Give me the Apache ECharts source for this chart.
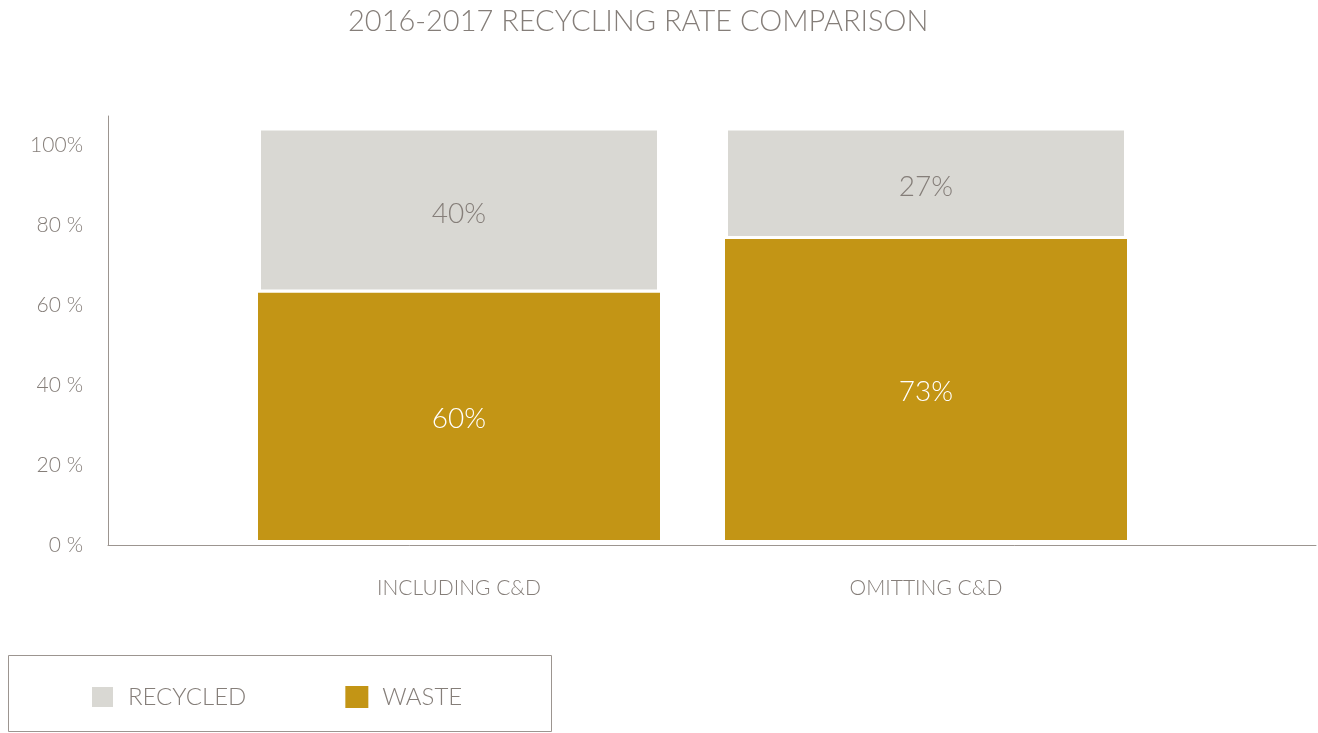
<!DOCTYPE html>
<html>
<head>
<meta charset="utf-8">
<script src="https://cdn.jsdelivr.net/npm/echarts@6/dist/echarts.min.js"></script>
<style>
html,body{margin:0;padding:0;background:#fff;}
#chart{width:1318px;height:733px;}
</style>
</head>
<body>
<div id="chart"></div>
<script>
const titleText = '2016-2017 RECYCLING RATE COMPARISON';
const categories = ['INCLUDING C&D', 'OMITTING C&D'];
const wasteValues = [60, 73];
const recycledValues = [40, 27];
const yTickValues = [0, 20, 40, 60, 80, 100];
const yTickLabels = ['0 %', '20 %', '40 %', '60 %', '80 %', '100%'];

const FONT = 'Lato';
const GREY_TEXT = '#857e79';
const AXIS = '#9c9590';
const GOLD = '#c39515';
const LIGHT = '#d9d8d3';

const chart = echarts.init(document.getElementById('chart'), null, {renderer: 'canvas'});

const option = {
  backgroundColor: '#ffffff',
  animation: false,
  title: {
    text: titleText,
    left: 343,
    top: 2,
    textStyle: {fontFamily: FONT, fontSize: 29, fontWeight: 300, color: GREY_TEXT}
  },
  graphic: [{
    type: 'rect',
    shape: {x: 8.5, y: 655.5, width: 543, height: 76},
    style: {fill: 'none', stroke: AXIS, lineWidth: 1}
  }],
  legend: {
    left: 85,
    top: 680,
    data: ['RECYCLED', 'WASTE'],
    icon: 'rect',
    itemWidth: 23,
    itemHeight: 22,
    itemGap: 99,
    textStyle: {fontFamily: FONT, fontSize: 24, fontWeight: 300, color: GREY_TEXT, padding: [0, 0, 0, 9]}
  },
  grid: [
    {left: 108, right: 2, top: 116, bottom: 188},
    {left: 225.5, right: 158.5, top: 116, bottom: 188}
  ],
  xAxis: [
    {
      gridIndex: 0, type: 'category', data: [''],
      axisLine: {show: true, lineStyle: {color: AXIS, width: 1}},
      axisTick: {show: false}, axisLabel: {show: false}, splitLine: {show: false}
    },
    {
      gridIndex: 1, type: 'category', data: categories,
      axisLine: {show: false}, axisTick: {show: false},
      axisLabel: {fontFamily: FONT, fontSize: 21, fontWeight: 300, color: GREY_TEXT, margin: 33}
    }
  ],
  yAxis: [
    {
      gridIndex: 0, type: 'value', min: 0, max: 107.25, interval: 20,
      axisLine: {show: true, lineStyle: {color: AXIS, width: 1}},
      axisTick: {show: false}, splitLine: {show: false},
      axisLabel: {
        fontFamily: FONT, fontSize: 21, fontWeight: 300, color: GREY_TEXT, margin: 25,
        formatter: function (v) {
          const i = yTickValues.indexOf(v);
          return i >= 0 ? yTickLabels[i] : '';
        }
      }
    },
    {
      gridIndex: 1, type: 'value', min: -1.21, max: 102.79,
      show: false, splitLine: {show: false}
    }
  ],
  series: [
    {
      name: 'WASTE', type: 'bar', stack: 'total',
      xAxisIndex: 1, yAxisIndex: 1,
      data: wasteValues, barWidth: 402,
      itemStyle: {color: GOLD},
      label: {show: true, position: 'inside', formatter: '{c}%',
        fontFamily: FONT, fontSize: 28, fontWeight: 300, color: '#ffffff', offset: [0, 3]}
    },
    {
      name: 'RECYCLED', type: 'bar', stack: 'total',
      xAxisIndex: 1, yAxisIndex: 1,
      data: recycledValues, barWidth: 402,
      itemStyle: {color: LIGHT, borderColor: '#ffffff', borderWidth: 3},
      label: {show: true, position: 'inside', formatter: '{c}%',
        fontFamily: FONT, fontSize: 28, fontWeight: 300, color: GREY_TEXT, offset: [0, 4]}
    }
  ]
};
chart.setOption(option);
</script>
</body>
</html>
